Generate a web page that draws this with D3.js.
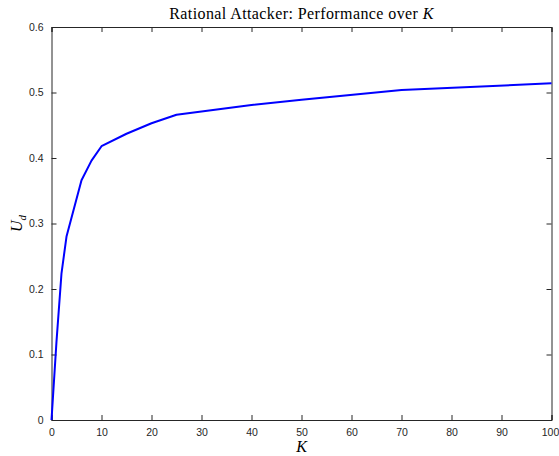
<!DOCTYPE html>
<html>
<head>
<meta charset="utf-8">
<script src="https://cdn.jsdelivr.net/npm/d3@7"></script>
<style>
  body { margin: 0; background: #fff; }
  .tick text { font-family: "Liberation Sans", Arial, sans-serif; font-size: 10.5px; fill: #262626; }
  .serif { font-family: "Liberation Serif", "DejaVu Serif", serif; fill: #000; }
</style>
</head>
<body>
<div id="chart"></div>
<script>
//Data
let kValues = [0, 1, 2, 3, 6, 8, 10, 15, 20, 25, 40, 50, 70, 100];
let udValues = [0, 0.12, 0.224, 0.28, 0.366, 0.396, 0.418, 0.437, 0.453, 0.466, 0.481, 0.489, 0.504, 0.514];
let xTicks = [0, 10, 20, 30, 40, 50, 60, 70, 80, 90, 100];
let yTicks = [0, 0.1, 0.2, 0.3, 0.4, 0.5, 0.6];

let svgWidth = 559, svgHeight = 456;
let margin = { top: 27, right: 8, bottom: 36, left: 51.5 };
let width = 551.5 - margin.left;
let height = 420 - margin.top;

let svg = d3.select("#chart").append("svg")
  .attr("width", svgWidth)
  .attr("height", svgHeight);

let g = svg.append("g")
  .attr("transform", `translate(${margin.left}, ${margin.top})`);

let x = d3.scaleLinear().domain([0, 100]).range([0, width]);
let y = d3.scaleLinear().domain([0, 0.6]).range([height, 0]);

let axisColor = "#262626";

//Bottom and left axes with inward ticks
let bottomAxis = g.append("g")
  .attr("transform", `translate(0, ${height})`)
  .call(d3.axisBottom(x).tickValues(xTicks).tickSize(-5).tickPadding(9).tickFormat(d3.format("d")));
let leftAxis = g.append("g")
  .call(d3.axisLeft(y).tickValues(yTicks).tickSize(-5).tickPadding(8).tickFormat(d => d === 0 ? "0" : d3.format(".1f")(d)));

//Keep the last x label inside the picture
bottomAxis.selectAll(".tick text").filter(d => d === 100).attr("dx", -1.5);

//Top and right axes (box), ticks only
let topAxis = g.append("g")
  .call(d3.axisTop(x).tickValues(xTicks).tickSize(-5).tickFormat(""));
let rightAxis = g.append("g")
  .attr("transform", `translate(${width}, 0)`)
  .call(d3.axisRight(y).tickValues(yTicks).tickSize(-5).tickFormat(""));

[bottomAxis, leftAxis, topAxis, rightAxis].forEach(a => {
  a.select(".domain").attr("stroke", axisColor).attr("stroke-width", 1);
  a.selectAll(".tick line").attr("stroke", axisColor);
});

//Line
let pts = kValues.map((k, i) => [k, udValues[i]]);
g.append("path")
  .datum(pts)
  .attr("fill", "none")
  .attr("stroke", "#0000ff")
  .attr("stroke-width", 2)
  .attr("stroke-linejoin", "round")
  .attr("d", d3.line().x(d => x(d[0])).y(d => y(d[1])));

//Title
let title = svg.append("text")
  .attr("class", "serif")
  .attr("x", margin.left + width / 2)
  .attr("y", 19)
  .attr("text-anchor", "middle")
  .style("font-size", "16px")
  .style("letter-spacing", "0.4px");
title.append("tspan").text("Rational Attacker: Performance over ");
title.append("tspan").style("font-style", "italic").text("K");

//X label
svg.append("text")
  .attr("class", "serif")
  .attr("x", margin.left + width / 2)
  .attr("y", 452)
  .attr("text-anchor", "middle")
  .style("font-size", "16px")
  .style("font-style", "italic")
  .text("K");

//Y label
let yl = svg.append("text")
  .attr("class", "serif")
  .attr("transform", `translate(22, ${margin.top + height / 2}) rotate(-90)`)
  .attr("text-anchor", "middle")
  .style("font-size", "16px")
  .style("font-style", "italic");
yl.append("tspan").text("U");
yl.append("tspan").attr("dy", 4).style("font-size", "11px").text("d");
</script>
</body>
</html>
